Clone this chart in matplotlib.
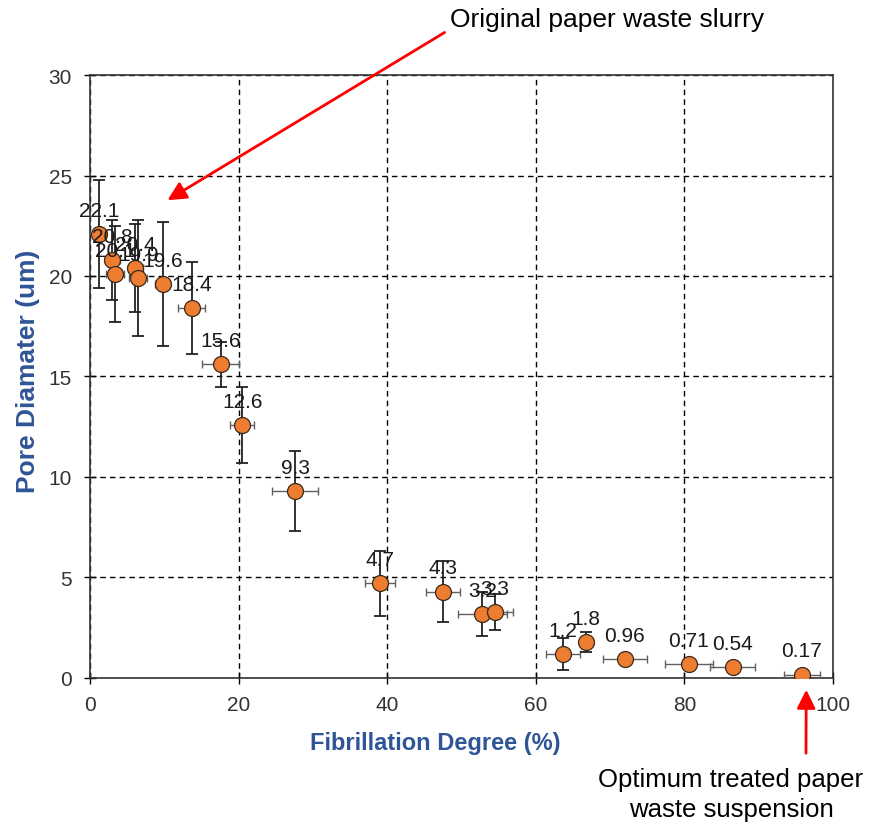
import matplotlib
matplotlib.use("Agg")
import matplotlib.pyplot as plt

plt.rcParams['font.family'] = ['Liberation Sans', 'DejaVu Sans']

# Степень фибрилляции (%) и диаметр пор (um)
fib_degree = [1.2, 3.0, 3.4, 6.1, 6.5, 9.8, 13.7, 17.6, 20.5, 27.6,
              39.0, 47.5, 52.8, 54.5, 63.7, 66.8, 72.0, 80.6, 86.5, 95.8]
pore_diam = [22.1, 20.8, 20.1, 20.4, 19.9, 19.6, 18.4, 15.6, 12.6, 9.3,
             4.7, 4.3, 3.2, 3.3, 1.2, 1.8, 0.96, 0.71, 0.54, 0.17]
fib_err = [0.8, 1.0, 1.2, 1.0, 1.2, 1.0, 1.8, 2.5, 1.6, 3.1,
           2.0, 2.3, 3.3, 2.4, 2.3, 0.9, 2.9, 3.2, 3.0, 2.4]
pore_err = [2.7, 2.0, 2.4, 2.2, 2.9, 3.1, 2.3, 1.1, 1.9, 2.0,
            1.6, 1.5, 1.1, 0.9, 0.8, 0.5, 0.1, 0.1, 0.1, 0.1]
point_labels = [str(v) for v in pore_diam]

fig = plt.figure(figsize=(8.75, 8.28), dpi=100)
ax = fig.add_axes([0.1029, 0.1800, 0.8491, 0.7282])

# Горизонтальные погрешности (серые) и вертикальные (чёрные)
ax.errorbar(fib_degree, pore_diam, xerr=fib_err, fmt='none',
            ecolor='#606060', elinewidth=1.0, capsize=3, capthick=1.0, zorder=3)
ax.errorbar(fib_degree, pore_diam, yerr=pore_err, fmt='none',
            ecolor='#222222', elinewidth=1.3, capsize=4, capthick=1.3, zorder=3)
ax.plot(fib_degree, pore_diam, 'o', color='#ED7D31', markersize=11.5,
        markeredgecolor='#3a2a1a', markeredgewidth=0.9, zorder=4)

for xv, yv, lab in zip(fib_degree, pore_diam, point_labels):
    ax.annotate(lab, (xv, yv), textcoords='offset points', xytext=(0, 13),
                ha='center', va='baseline', fontsize=15, color='#1a1a1a', zorder=5)

ax.set_xlim(0, 100)
ax.set_ylim(0, 30)
ax.set_xticks([0, 20, 40, 60, 80, 100])
ax.set_yticks([0, 5, 10, 15, 20, 25, 30])
ax.tick_params(direction='inout', length=8, width=1, labelsize=15,
               labelcolor='#333333')
ax.tick_params(axis='y', pad=9)
ax.tick_params(axis='x', pad=8)
ax.grid(True, color='black', linestyle=(0, (4, 3)), linewidth=1)
ax.set_axisbelow(True)
for sp in ax.spines.values():
    sp.set_color('#333333')
    sp.set_linewidth(1.2)

ax.set_xlabel("Fibrillation Degree (%)", fontsize=17, fontweight='bold',
              color='#2F5597')
ax.xaxis.set_label_coords(0.465, -0.088)
ax.set_ylabel("Pore Diamater (um)", fontsize=19, fontweight='bold',
              color='#2F5597')
ax.yaxis.set_label_coords(-0.068, 0.51)

# Подписи со стрелками
fig.text(607 / 875, 1 - 20 / 828, "Original paper waste slurry",
         ha='center', va='center', fontsize=19)
ax.annotate('', xy=(10.1, 23.7), xytext=(447 / 875, 1 - 32 / 828),
            textcoords='figure fraction',
            arrowprops=dict(arrowstyle='-|>', color='red', lw=2, mutation_scale=28))

fig.text(731 / 875, 1 - 795 / 828, "Optimum treated paper\nwaste suspension",
         ha='center', va='center', fontsize=18.5, linespacing=1.3)
ax.annotate('', xy=(96.4, -0.45), xytext=(806 / 875, 1 - 757 / 828),
            textcoords='figure fraction', annotation_clip=False,
            arrowprops=dict(arrowstyle='-|>', color='red', lw=2, mutation_scale=28))

fig.savefig('out.png', dpi=100)
